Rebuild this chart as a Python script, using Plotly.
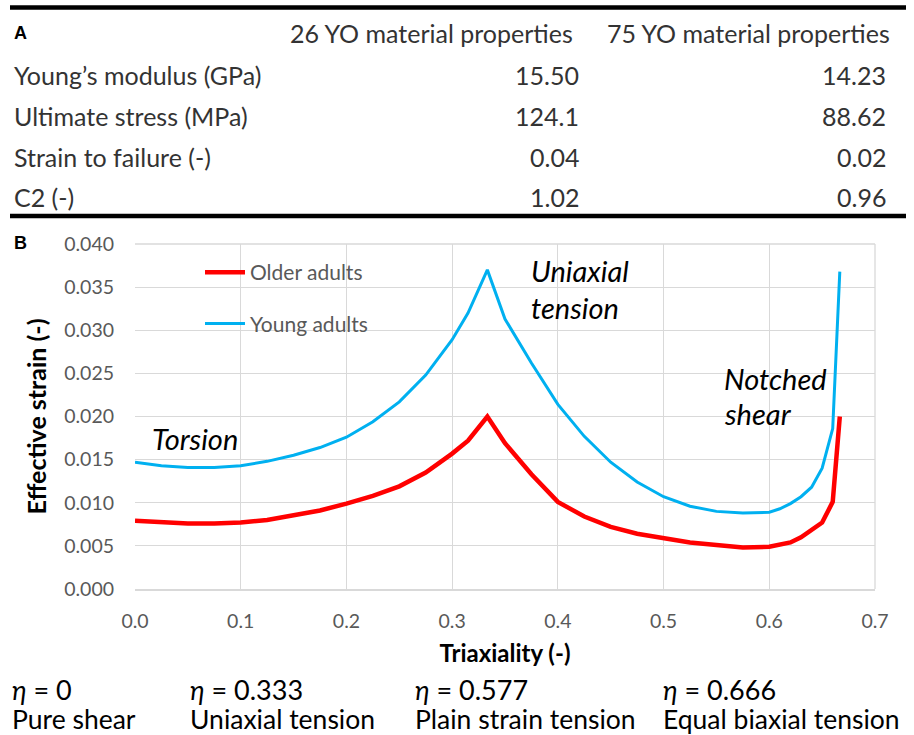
import plotly.graph_objects as go

# ---------------- data ----------------
triaxiality = [0, 0.025, 0.05, 0.075, 0.1, 0.125, 0.15, 0.175, 0.2, 0.225, 0.25, 0.275, 0.3,
               0.315, 0.3333, 0.35, 0.375, 0.4, 0.425, 0.45, 0.475, 0.5, 0.525, 0.55, 0.575,
               0.6, 0.61, 0.62, 0.63, 0.64, 0.65, 0.66, 0.6667]
young_adults = [0.0147, 0.0143, 0.0141, 0.0141, 0.0143, 0.0148, 0.0155, 0.0164, 0.0176, 0.0194,
                0.0217, 0.0248, 0.0289, 0.0320, 0.0370, 0.0313, 0.0262, 0.0214, 0.0177, 0.0147,
                0.0124, 0.0107, 0.0096, 0.0090, 0.0088, 0.0089, 0.0093, 0.0099, 0.0107, 0.0118,
                0.0140, 0.0186, 0.0368]
older_adults = [0.0079, 0.0077, 0.0076, 0.0076, 0.0077, 0.0080, 0.0085, 0.0091, 0.0099, 0.0108,
                0.0119, 0.0135, 0.0157, 0.0172, 0.0200, 0.0169, 0.0133, 0.0101, 0.0084, 0.0072,
                0.0064, 0.0059, 0.0054, 0.0051, 0.0048, 0.0049, 0.0051, 0.0054, 0.0060, 0.0068,
                0.0077, 0.0101, 0.0200]

table_header = ["26 YO material properties", "75 YO material properties"]
table_rows = ["Young\u2019s modulus (GPa)", "Ultimate stress (MPa)", "Strain to failure (-)", "C2 (-)"]
col_26yo = ["15.50", "124.1", "0.04", "1.02"]
col_75yo = ["14.23", "88.62", "0.02", "0.96"]

eta_values = ["0", "0.333", "0.577", "0.666"]
eta_names = ["Pure shear", "Uniaxial tension", "Plain strain tension", "Equal biaxial tension"]

x_ticks = [0.0, 0.1, 0.2, 0.3, 0.4, 0.5, 0.6, 0.7]
y_ticks = [0.000, 0.005, 0.010, 0.015, 0.020, 0.025, 0.030, 0.035, 0.040]

# ---------------- geometry helpers ----------------
W, H = 914, 735
L, R, T, B = 135, 875, 244, 589


def px(x):
    return (x - L) / (R - L)


def py(y):
    return (B - y) / (B - T)


FONT = "Lato, Open Sans, sans-serif"
GRAY = "#595959"

fig = go.Figure()
fig.add_trace(go.Scatter(x=triaxiality, y=older_adults, mode="lines", name="Older adults",
                         line=dict(color="#FF0000", width=4.5), legendgroup="a"))
fig.add_trace(go.Scatter(x=triaxiality, y=young_adults, mode="lines", name="Young adults",
                         line=dict(color="#00B0F0", width=3), legendgroup="b"))

fig.update_layout(
    width=W, height=H,
    margin=dict(l=L, r=W - R, t=T, b=H - B),
    paper_bgcolor="white", plot_bgcolor="white",
    font=dict(family=FONT, color=GRAY, size=19),
    showlegend=True,
    legend=dict(x=px(200), y=py(252), xanchor="left", yanchor="top",
                bgcolor="rgba(0,0,0,0)", tracegroupgap=21,
                font=dict(family=FONT, size=21, color=GRAY), itemwidth=40),
    xaxis=dict(range=[0, 0.7], tickvals=x_ticks, ticktext=[f"{v:.1f}" for v in x_ticks],
               showgrid=True, gridcolor="#D9D9D9", gridwidth=1.3, zeroline=False,
               showline=True, linecolor="#D9D9D9", linewidth=1.5, ticks="", ticklabelstandoff=14,
               tickfont=dict(size=19.5, color=GRAY, family=FONT),
               title=dict(text="<b>Triaxiality (-)</b>", font=dict(size=24, color="black", family=FONT),
                          standoff=14)),
    yaxis=dict(range=[0, 0.040], tickvals=y_ticks, ticktext=[f"{v:.3f}" for v in y_ticks],
               showgrid=True, gridcolor="#D9D9D9", gridwidth=1.3, zeroline=False,
               showline=False, ticks="", ticklabelstandoff=20,
               tickfont=dict(size=19.5, color=GRAY, family=FONT),
               title=dict(text="<b>Effective strain (-)</b>", font=dict(size=25, color="black", family=FONT),
                          standoff=10)),
)

# plot right border / top border lines
fig.add_shape(type="line", xref="paper", yref="paper", x0=0, x1=1, y0=1, y1=1,
              line=dict(color="#D9D9D9", width=1.3))
fig.add_shape(type="line", xref="paper", yref="paper", x0=1, x1=1, y0=0, y1=1,
              line=dict(color="#D9D9D9", width=1.3))

# table rules
for yy in (7.5, 216):
    fig.add_shape(type="line", xref="paper", yref="paper", x0=px(10), x1=px(906),
                  y0=py(yy), y1=py(yy), line=dict(color="black", width=4.5))

ann = []


def text(x, y, s, size=25, color="black", xanchor="left", italic=False, bold=False, family=FONT):
    if italic:
        s = f"<i>{s}</i>"
    if bold:
        s = f"<b>{s}</b>"
    ann.append(dict(x=px(x), y=py(y), xref="paper", yref="paper", text=s, showarrow=False,
                    xanchor=xanchor, yanchor="middle", align="left",
                    font=dict(size=size, color=color, family=family)))


# table
text(12, 33, "A", size=18, bold=True, family="Liberation Sans, Arial, sans-serif")
text(288, 33, table_header[0], color="#333333")
text(605, 33, table_header[1], color="#333333")
row_y = [75, 116, 157, 197]
for i, lab in enumerate(table_rows):
    text(12, row_y[i], lab, color="#333333")
    text(581, row_y[i], col_26yo[i], color="#333333", xanchor="right")
    text(888, row_y[i], col_75yo[i], color="#333333", xanchor="right")

# panel B label
text(12, 243, "B", size=18, bold=True, family="Liberation Sans, Arial, sans-serif")

# chart annotations
text(150, 438, "Torsion", size=29, italic=True)
text(529, 270, "Uniaxial", size=29, italic=True)
text(529, 307, "tension", size=29, italic=True)
text(722, 378, "Notched", size=29, italic=True)
text(722, 413, "shear", size=29, italic=True)

# bottom eta labels
eta_x = [10, 188, 413, 661]
for i in range(4):
    text(eta_x[i], 689, f"<i>\u03b7</i> = {eta_values[i]}", size=27)
    text(eta_x[i], 719, eta_names[i], size=26.5)

fig.update_layout(annotations=ann)
fig.write_html("out.html", config={"displayModeBar": False},
               post_script="document.body.style.margin='0';document.body.style.overflow='hidden';")
